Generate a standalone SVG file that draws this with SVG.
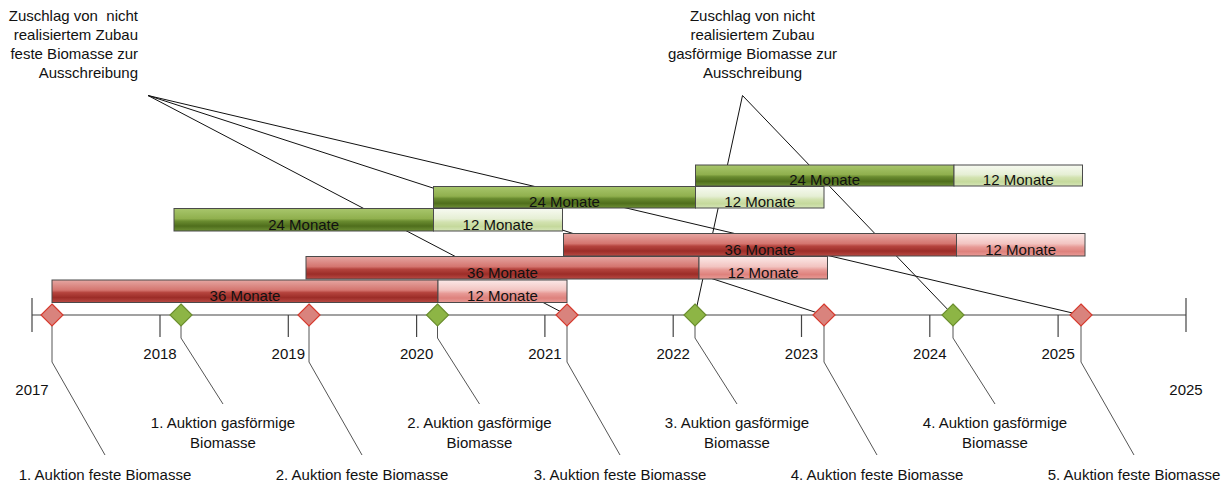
<svg xmlns="http://www.w3.org/2000/svg" width="1230" height="486" viewBox="0 0 1230 486">
<defs>
<linearGradient id="gDark" x1="0" y1="0" x2="0" y2="1">
<stop offset="0" stop-color="#a8c66c"/><stop offset="0.45" stop-color="#90b04e"/><stop offset="0.56" stop-color="#6a8c30"/><stop offset="0.78" stop-color="#4f6e1c"/><stop offset="1" stop-color="#6e9036"/>
</linearGradient>
<linearGradient id="gLight" x1="0" y1="0" x2="0" y2="1">
<stop offset="0" stop-color="#f7faf1"/><stop offset="0.45" stop-color="#e6efd5"/><stop offset="0.6" stop-color="#d2e2b0"/><stop offset="0.8" stop-color="#c5d99c"/><stop offset="1" stop-color="#d6e6b8"/>
</linearGradient>
<linearGradient id="rDark" x1="0" y1="0" x2="0" y2="1">
<stop offset="0" stop-color="#e6a6a2"/><stop offset="0.45" stop-color="#d4756f"/><stop offset="0.56" stop-color="#b5443e"/><stop offset="0.78" stop-color="#9c2d28"/><stop offset="1" stop-color="#b94a44"/>
</linearGradient>
<linearGradient id="rLight" x1="0" y1="0" x2="0" y2="1">
<stop offset="0" stop-color="#fce9e8"/><stop offset="0.45" stop-color="#f2c4c1"/><stop offset="0.6" stop-color="#e79a96"/><stop offset="0.8" stop-color="#de827d"/><stop offset="1" stop-color="#e99b97"/>
</linearGradient>
</defs>
<style>
text{font-family:"Liberation Sans",Arial,sans-serif;font-size:15px;fill:#111}
.bar{stroke:#4a4a4a;stroke-width:1}
.bt{text-anchor:middle}
.lead{stroke:#555;stroke-width:1;fill:none}
.call{stroke:#111;stroke-width:1;fill:none}
.axis{stroke:#444;stroke-width:1.2;fill:none}
.rd{fill:#d9837d;stroke:#d63a2e;stroke-width:1.2}
.gd{fill:#8db545;stroke:#6b8e2f;stroke-width:1.2}
.mid{text-anchor:middle}
.end{text-anchor:end}
</style>
<rect width="1230" height="486" fill="#fff"/>

<g id="connectors">
<line class="call" x1="148" y1="95.5" x2="567" y2="315"/>
<line class="call" x1="148" y1="95.5" x2="824" y2="315"/>
<line class="call" x1="148" y1="95.5" x2="1081" y2="315"/>
<line class="call" x1="742.5" y1="95.5" x2="695" y2="315"/>
<line class="call" x1="742.5" y1="95.5" x2="953" y2="315"/>
<polyline class="lead" points="52,315 52,362 105,455"/>
<polyline class="lead" points="309,315 309,362 362,455"/>
<polyline class="lead" points="567,315 567,362 620,455"/>
<polyline class="lead" points="824,315 824,362 877,455"/>
<polyline class="lead" points="1081,315 1081,362 1134,455"/>
<polyline class="lead" points="181,315 181,338 223,404"/>
<polyline class="lead" points="437.5,315 437.5,338 479.5,404"/>
<polyline class="lead" points="695,315 695,338 737,404"/>
<polyline class="lead" points="953,315 953,338 995,404"/>
</g>

<g id="callout-feste">
<text class="end" x="138" y="21" xml:space="preserve">Zuschlag von  nicht</text>
<text class="end" x="138" y="40">realisiertem Zubau</text>
<text class="end" x="138" y="59">feste Biomasse zur</text>
<text class="end" x="138" y="78">Ausschreibung</text>
</g>
<g id="callout-gas">
<text class="mid" x="752.5" y="21">Zuschlag von nicht</text>
<text class="mid" x="752.5" y="40">realisiertem Zubau</text>
<text class="mid" x="752.5" y="59">gasförmige Biomasse zur</text>
<text class="mid" x="752.5" y="78">Ausschreibung</text>
</g>

<g id="bar-gas-3">
<rect class="bar" x="695.5" y="165" width="258.5" height="21" fill="url(#gDark)"/>
<rect class="bar" x="954" y="165" width="128.5" height="21" fill="url(#gLight)"/>
<text class="bt" x="824.7" y="184.5">24 Monate</text>
<text class="bt" x="1018.3" y="184.5">12 Monate</text>
</g>
<g id="bar-gas-2">
<rect class="bar" x="433.5" y="186.5" width="262" height="21.5" fill="url(#gDark)"/>
<rect class="bar" x="695.5" y="186.5" width="128.5" height="21.5" fill="url(#gLight)"/>
<text class="bt" x="564.5" y="206.5">24 Monate</text>
<text class="bt" x="759.8" y="206.5">12 Monate</text>
</g>
<g id="bar-gas-1">
<rect class="bar" x="174" y="208.5" width="259.5" height="22.5" fill="url(#gDark)"/>
<rect class="bar" x="433.5" y="208.5" width="129" height="22.5" fill="url(#gLight)"/>
<text class="bt" x="303.7" y="229.5">24 Monate</text>
<text class="bt" x="498" y="229.5">12 Monate</text>
</g>
<g id="bar-fest-3">
<rect class="bar" x="563.5" y="233.5" width="393" height="22.5" fill="url(#rDark)"/>
<rect class="bar" x="956.5" y="233.5" width="128.5" height="22.5" fill="url(#rLight)"/>
<text class="bt" x="760" y="254.5">36 Monate</text>
<text class="bt" x="1020.7" y="254.5">12 Monate</text>
</g>
<g id="bar-fest-2">
<rect class="bar" x="306" y="256.5" width="393" height="22.5" fill="url(#rDark)"/>
<rect class="bar" x="699" y="256.5" width="128.5" height="22.5" fill="url(#rLight)"/>
<text class="bt" x="502.5" y="277.5">36 Monate</text>
<text class="bt" x="763.2" y="277.5">12 Monate</text>
</g>
<g id="bar-fest-1">
<rect class="bar" x="52" y="280" width="386" height="22.5" fill="url(#rDark)"/>
<rect class="bar" x="438" y="280" width="129" height="22.5" fill="url(#rLight)"/>
<text class="bt" x="245" y="301">36 Monate</text>
<text class="bt" x="502.5" y="301">12 Monate</text>
</g>

<g id="timeline">
<line class="axis" x1="32" y1="315" x2="1186" y2="315"/>
<line class="axis" x1="32" y1="298" x2="32" y2="332"/>
<line class="axis" x1="1186" y1="298" x2="1186" y2="332"/>
<line class="axis" x1="160" y1="315" x2="160" y2="337"/>
<line class="axis" x1="288.3" y1="315" x2="288.3" y2="337"/>
<line class="axis" x1="416.6" y1="315" x2="416.6" y2="337"/>
<line class="axis" x1="544.9" y1="315" x2="544.9" y2="337"/>
<line class="axis" x1="673.2" y1="315" x2="673.2" y2="337"/>
<line class="axis" x1="801.5" y1="315" x2="801.5" y2="337"/>
<line class="axis" x1="929.8" y1="315" x2="929.8" y2="337"/>
<line class="axis" x1="1058.1" y1="315" x2="1058.1" y2="337"/>
<text class="mid" x="32" y="395">2017</text>
<text class="mid" x="160" y="359">2018</text>
<text class="mid" x="288.3" y="359">2019</text>
<text class="mid" x="416.6" y="359">2020</text>
<text class="mid" x="544.9" y="359">2021</text>
<text class="mid" x="673.2" y="359">2022</text>
<text class="mid" x="801.5" y="359">2023</text>
<text class="mid" x="929.8" y="359">2024</text>
<text class="mid" x="1058.1" y="359">2025</text>
<text class="mid" x="1186" y="395">2025</text>
</g>

<g id="auktion-fest-1"><polygon class="rd" points="52,304 63,315 52,326 41,315"/><text class="mid" x="105" y="480">1. Auktion feste Biomasse</text></g>
<g id="auktion-fest-2"><polygon class="rd" points="309,304 320,315 309,326 298,315"/><text class="mid" x="362" y="480">2. Auktion feste Biomasse</text></g>
<g id="auktion-fest-3"><polygon class="rd" points="567,304 578,315 567,326 556,315"/><text class="mid" x="620" y="480">3. Auktion feste Biomasse</text></g>
<g id="auktion-fest-4"><polygon class="rd" points="824,304 835,315 824,326 813,315"/><text class="mid" x="877" y="480">4. Auktion feste Biomasse</text></g>
<g id="auktion-fest-5"><polygon class="rd" points="1081,304 1092,315 1081,326 1070,315"/><text class="mid" x="1134" y="480">5. Auktion feste Biomasse</text></g>
<g id="auktion-gas-1"><polygon class="gd" points="181,304 192,315 181,326 170,315"/><text class="mid" x="223" y="428">1. Auktion gasförmige</text><text class="mid" x="223" y="448">Biomasse</text></g>
<g id="auktion-gas-2"><polygon class="gd" points="437.5,304 448.5,315 437.5,326 426.5,315"/><text class="mid" x="479.5" y="428">2. Auktion gasförmige</text><text class="mid" x="479.5" y="448">Biomasse</text></g>
<g id="auktion-gas-3"><polygon class="gd" points="695,304 706,315 695,326 684,315"/><text class="mid" x="737" y="428">3. Auktion gasförmige</text><text class="mid" x="737" y="448">Biomasse</text></g>
<g id="auktion-gas-4"><polygon class="gd" points="953,304 964,315 953,326 942,315"/><text class="mid" x="995" y="428">4. Auktion gasförmige</text><text class="mid" x="995" y="448">Biomasse</text></g>
</svg>
